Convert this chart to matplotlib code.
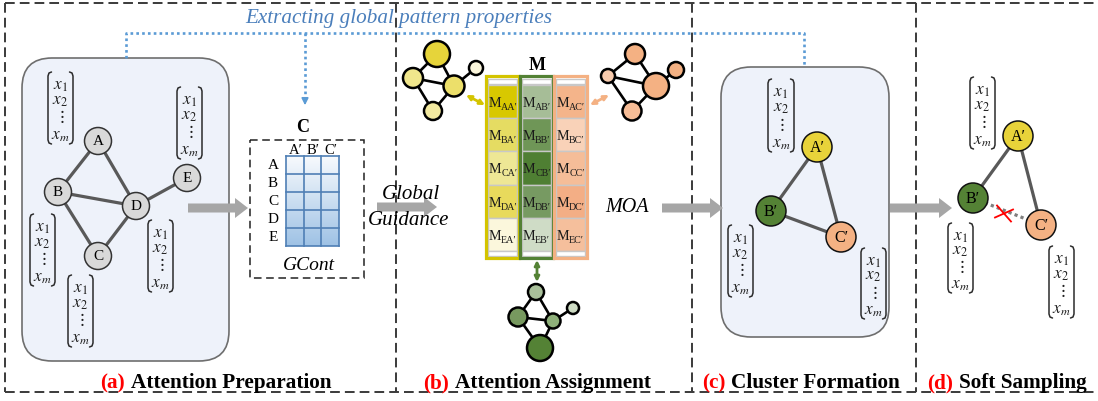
import matplotlib
matplotlib.use("Agg")
import matplotlib.pyplot as plt
import numpy as np
from matplotlib.patches import Circle, Rectangle, FancyBboxPatch, FancyArrow
from matplotlib.colors import LinearSegmentedColormap

plt.rcParams['mathtext.fontset'] = 'stix'
SERIF = ['Liberation Serif', 'DejaVu Serif']

# ---------------- data ----------------
nodes_a = ['A', 'B', 'C', 'D', 'E']
edges_a = [('A', 'B'), ('A', 'D'), ('B', 'D'), ('B', 'C'), ('C', 'D'), ('D', 'E')]
clusters = ['A′', 'B′', 'C′']
cluster_colors = ['#e8d33a', '#548235', '#f4b183']
edges_c = [('A′', 'B′'), ('A′', 'C′'), ('B′', 'C′')]
edges_d_kept = [('A′', 'B′'), ('A′', 'C′')]
edges_d_cut = [('B′', 'C′')]
M_colors = [  # rows A..E, cols A',B',C'
    ['#d8c800', '#a6bd97', '#f4b48a'],
    ['#e5dc62', '#6f9657', '#f9d2b8'],
    ['#eee795', '#4f7f33', '#f5bd98'],
    ['#e8da5c', '#779a62', '#f3ae85'],
    ['#fbf7dc', '#cfdcc6', '#f5bf9c'],
]
col_frame_colors = ['#d4c400', '#538135', '#f4b183']
vec_items = ['$x_1$', '$x_2$', r'$\vdots$', '$x_m$']
section_tags = ['(a)', '(b)', '(c)', '(d)']
section_titles = ['Attention Preparation', 'Attention Assignment',
                  'Cluster Formation', 'Soft Sampling']
top_caption = 'Extracting global pattern properties'
guidance_lines = ['Global', 'Guidance']
moa_label = 'MOA'
gcont_label = 'GCont'
# icon graphs: node fill colours and edges
icon_yellow_colors = ['#e6d43a', '#f0e68c', '#ecdf6a', '#f2e9a0', '#fbf6dc']
icon_orange_colors = ['#f4b183', '#f8cbad', '#f4b183', '#f6bc96', '#f4b183']
icon_green_colors = ['#a9c09a', '#77995f', '#8fb07a', '#548235', '#cddbc3']
icon_edges = [(0, 1), (0, 2), (1, 2), (1, 3), (2, 3), (2, 4)]

# ---------------- layout ----------------
W, H = 1098, 402
fig = plt.figure(figsize=(W / 100, H / 100), dpi=100)
ax = fig.add_axes([0, 0, 1, 1])
ax.set_xlim(0, W)
ax.set_ylim(H, 0)
ax.axis('off')
renderer = fig.canvas.get_renderer()

pos_a = {'A': (98, 142), 'B': (58, 193), 'C': (98, 257), 'D': (136, 207), 'E': (187, 179)}
pos_c = {'A′': (817, 148), 'B′': (771, 212), 'C′': (841, 238)}
pos_d = {'A′': (1018, 137), 'B′': (973, 199), 'C′': (1041, 226)}

FRAME = '#3a3a3a'
dash_kw = dict(color=FRAME, lw=1.4, dashes=(5, 2.6), zorder=1)
ax.plot([5, W], [4, 4], **dash_kw)
ax.plot([5, W], [393, 393], **dash_kw)
for xv in [5, 396, 692, 916]:
    ax.plot([xv, xv], [4, 393], **dash_kw)

# rounded boxes
for (x0, y0, x1, y1) in [(22, 59, 229, 362), (721, 68, 889, 338)]:
    ax.add_patch(FancyBboxPatch((x0, y0), x1 - x0, y1 - y0,
                                boxstyle='round,pad=0,rounding_size=30',
                                fc='#eef2fa', ec='#6e6e6e', lw=1.2, zorder=2))

# blue dotted guide
BLUE = '#5b9bd5'
dot_kw = dict(color=BLUE, lw=1.9, dashes=(1, 1.2), zorder=3)
ax.plot([126, 126, 804, 804], [59, 34, 34, 67], **dot_kw)
ax.plot([305, 305], [34, 100], **dot_kw)
ax.annotate('', xy=(305, 109), xytext=(305, 99),
            arrowprops=dict(arrowstyle='-|>', color=BLUE, lw=1.2, mutation_scale=10))
ax.text(399, 19, top_caption, color='#4a7ebb', fontsize=15.2, style='italic',
        family=SERIF, ha='center', va='center')


def draw_vec(x0, y0, x1, y1):
    h = 3.5
    kw = dict(color='#2b2b2b', lw=1.1, zorder=4, solid_capstyle='round')
    ax.plot([x0 + h, x0 + 1, x0, x0, x0 + 1, x0 + h], [y0, y0 + 1, y0 + 4, y1 - 4, y1 - 1, y1], **kw)
    ax.plot([x1 - h, x1 - 1, x1, x1, x1 - 1, x1 - h], [y0, y0 + 1, y0 + 4, y1 - 4, y1 - 1, y1], **kw)
    hh = y1 - y0
    fr = [0.17, 0.37, 0.6, 0.86]
    cx = (x0 + x1) / 2
    for item, f in zip(vec_items, fr):
        ax.text(cx, y0 + f * hh, item, fontsize=12.5, ha='center', va='center', zorder=4,
                color='#222222')


for v in [(48, 73, 73, 145), (177, 88, 202, 160), (30, 215, 55, 287),
          (68, 276, 93, 348), (148, 221, 173, 293),
          (768, 80, 794, 153), (728, 226, 753, 298), (861, 249, 886, 320),
          (970, 78, 995, 150), (948, 224, 973, 294), (1049, 247, 1074, 319)]:
    draw_vec(*v)

# graph (a)
for u, v in edges_a:
    ax.plot([pos_a[u][0], pos_a[v][0]], [pos_a[u][1], pos_a[v][1]],
            color='#595959', lw=2.3, zorder=3)
for n in nodes_a:
    ax.add_patch(Circle(pos_a[n], 13.5, fc='#d9d9d9', ec='#333333', lw=1.1, zorder=4))
    ax.text(*pos_a[n], n, fontsize=11, family=SERIF, ha='center', va='center', zorder=5)

# grey block arrows
for x0, x1, y in [(188, 248, 209), (377, 437, 208), (662, 723, 209), (890, 952, 209)]:
    ax.add_patch(FancyArrow(x0, y, x1 - x0, 0, width=9, head_width=20, head_length=13,
                            length_includes_head=True, color='#a6a6a6', lw=0, zorder=3))

ax.text(411, 195, guidance_lines[0], fontsize=15, style='italic', family=SERIF,
        ha='center', va='center', zorder=4)
ax.text(409, 221, guidance_lines[1], fontsize=15, style='italic', family=SERIF,
        ha='center', va='center', zorder=4)
ax.text(627, 208, moa_label, fontsize=14.5, style='italic', family=SERIF,
        ha='center', va='center', zorder=4)

# C matrix
ax.add_patch(Rectangle((250, 141), 114, 138, fill=False, ec='#222222', lw=1.1,
                       ls=(0, (5, 3)), zorder=3))
ax.text(303, 127, 'C', fontsize=13, fontweight='bold', family=SERIF, ha='center', va='center')
gx0, gx1, gy0, gy1 = 286, 339, 157, 247
cmap = LinearSegmentedColormap.from_list('bl', ['#f7fafd', '#9fc2e5'])
grad = np.linspace(0, 1, 100).reshape(-1, 1)
ax.imshow(grad, cmap=cmap, extent=(gx0, gx1, gy1, gy0), aspect='auto', zorder=3)
for i in range(4):
    xv = gx0 + i * (gx1 - gx0) / 3
    ax.plot([xv, xv], [gy0, gy1], color='#4f7fb5', lw=1.2, zorder=4)
for j in range(6):
    yv = gy0 + j * (gy1 - gy0) / 5
    ax.plot([gx0, gx1], [yv, yv], color='#4f7fb5', lw=1.2, zorder=4)
for i, c in enumerate(clusters):
    ax.text(gx0 + (i + 0.5) * (gx1 - gx0) / 3 + 1, 151, c, fontsize=10.5, family=SERIF,
            ha='center', va='center')
for j, n in enumerate(nodes_a):
    ax.text(273, gy0 + (j + 0.5) * (gy1 - gy0) / 5, n, fontsize=11, family=SERIF,
            ha='center', va='center')
ax.text(309, 266, gcont_label, fontsize=14, style='italic', family=SERIF, ha='center', va='center')

# M matrix
ax.text(537, 66, 'M', fontsize=13, fontweight='bold', family=SERIF, ha='center', va='center')
col_x = [(486, 519), (520, 553), (554, 587)]
row_y0, row_h = 86, 33.2
for ci, (cx0, cx1) in enumerate(col_x):
    for ri, n in enumerate(nodes_a):
        ax.add_patch(Rectangle((cx0 + 2, row_y0 + ri * row_h), cx1 - cx0 - 4, row_h,
                               fc=M_colors[ri][ci], ec='#c8c8c8', lw=1, zorder=3))
        yb = row_y0 + (ri + 0.5) * row_h + 4.5
        tm = ax.text(cx0 + 2.5, yb, 'M', fontsize=10.2, family=SERIF, ha='left',
                     va='baseline', zorder=4, color='#1a1a1a')
        wm = tm.get_window_extent(renderer).width
        ax.text(cx0 + 2.5 + wm, yb + 3, n + clusters[ci], fontsize=7.2, family=SERIF, ha='left',
                va='baseline', zorder=4, color='#1a1a1a')
    ax.add_patch(Rectangle((cx0 + 2, 80), cx1 - cx0 - 4, 5, fc='white', ec='#c8c8c8', lw=1, zorder=3))
    ax.add_patch(Rectangle((cx0 + 2, row_y0 + 5 * row_h), cx1 - cx0 - 4, 5, fc='white',
                           ec='#c8c8c8', lw=1, zorder=3))
    ax.add_patch(Rectangle((cx0, 77), cx1 - cx0, 182, fill=False, ec=col_frame_colors[ci],
                           lw=2.3, zorder=5))


def draw_icon(pts, radii, colors):
    for u, v in icon_edges:
        ax.plot([pts[u][0], pts[v][0]], [pts[u][1], pts[v][1]], color='black', lw=1.9, zorder=3)
    for p, r, c in zip(pts, radii, colors):
        ax.add_patch(Circle(p, r, fc=c, ec='black', lw=1.8, zorder=4))


# yellow icon: 0 big top, 1 left, 2 mid, 3 bottom, 4 small
draw_icon([(437, 55), (413, 79), (454, 87), (433, 112), (476, 69)],
          [13, 10, 10.5, 9, 7], icon_yellow_colors)
# orange icon: 0 top, 1 left small, 2 big center, 3 bottom, 4 right small
draw_icon([(635, 55), (608, 77), (656, 87), (632, 112), (676, 71)],
          [10, 7, 13, 9.5, 8], icon_orange_colors)
# green icon: 0 top, 1 left, 2 mid, 3 bottom big, 4 small
draw_icon([(536, 293), (518, 318), (553, 322), (540, 349), (573, 309)],
          [8, 9.5, 7.5, 13, 6], icon_green_colors)

for (xa, ya), (xb, yb), c in [((466, 96), (485, 106), '#d4c400'),
                              ((590, 106), (609, 96), '#f4b183'),
                              ((537, 261), (537, 283), '#548235')]:
    ax.annotate('', xy=(xb, yb), xytext=(xa, ya),
                arrowprops=dict(arrowstyle='<|-|>', color=c, lw=2, mutation_scale=7,
                                shrinkA=0, shrinkB=0), zorder=5)

# cluster graph (c)
for u, v in edges_c:
    ax.plot([pos_c[u][0], pos_c[v][0]], [pos_c[u][1], pos_c[v][1]], color='#595959', lw=2.3, zorder=3)
for n, c in zip(clusters, cluster_colors):
    ax.add_patch(Circle(pos_c[n], 15, fc=c, ec='#111111', lw=1.1, zorder=4))
    ax.text(*pos_c[n], n, fontsize=11.5, family=SERIF, ha='center', va='center', zorder=5)

# soft sampling (d)
for u, v in edges_d_kept:
    ax.plot([pos_d[u][0], pos_d[v][0]], [pos_d[u][1], pos_d[v][1]], color='#595959', lw=2.3, zorder=3)
for u, v in edges_d_cut:
    ax.plot([pos_d[u][0], pos_d[v][0]], [pos_d[u][1], pos_d[v][1]], color='#7f7f7f', lw=2.3,
            dashes=(1, 1), zorder=3)
    mx = (pos_d[u][0] + pos_d[v][0]) / 2 - 3
    my = (pos_d[u][1] + pos_d[v][1]) / 2 + 2
    ax.plot([mx - 7, mx + 7], [my - 8, my + 8], color='red', lw=1.3, zorder=4)
    ax.plot([mx - 9, mx + 9], [my + 4, my - 4], color='red', lw=1.3, zorder=4)
for n, c in zip(clusters, cluster_colors):
    ax.add_patch(Circle(pos_d[n], 15, fc=c, ec='#111111', lw=1.1, zorder=4))
    ax.text(*pos_d[n], n, fontsize=11.5, family=SERIF, ha='center', va='center', zorder=5)

# section titles
for tag, title, cx in zip(section_tags, section_titles, [216, 537, 801, 1007]):
    t1 = ax.text(0, 388, tag, color='#ff0000', fontsize=15.3, fontweight='bold', family=SERIF,
                 ha='left', va='baseline', zorder=6)
    t2 = ax.text(0, 388, title, color='black', fontsize=15.3, fontweight='bold', family=SERIF,
                 ha='left', va='baseline', zorder=6)
    w1 = t1.get_window_extent(renderer).width
    w2 = t2.get_window_extent(renderer).width
    gap = 6
    x0 = cx - (w1 + gap + w2) / 2
    t1.set_x(x0)
    t2.set_x(x0 + w1 + gap)

fig.savefig('out.png', dpi=100)
